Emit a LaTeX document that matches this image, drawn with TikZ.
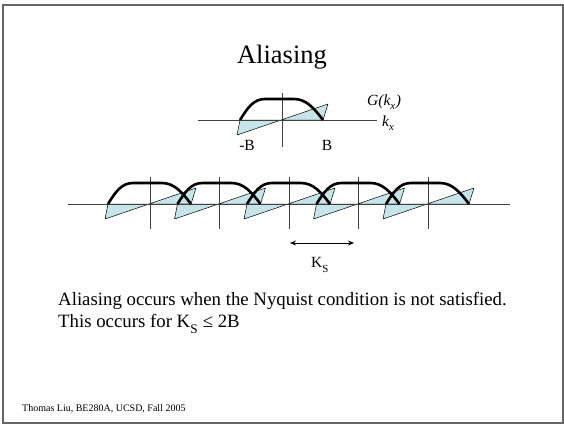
\documentclass[tikz,border=0pt]{standalone}
\usepackage{fontspec}
\setmainfont{Liberation Serif}
\usetikzlibrary{arrows.meta}
\definecolor{imagfill}{RGB}{198,228,233}
\newcommand{\lowsub}[1]{\raisebox{-0.18em}{\textsubscript{#1}}}
\begin{document}
\begin{tikzpicture}[x=1pt, y=-1pt,
        spectrum/.style={line width=2.6pt, black},
        imag/.style={fill=imagfill, draw=black, line width=0.5pt, line join=round},
        axis/.style={draw=black!75, line width=0.8pt},
        lbl/.style={font=\fontsize{15.5}{17}\selectfont, anchor=base, inner sep=0pt}
    ]
    \useasboundingbox (0,0) rectangle (564,424);
    \draw[black!60, line width=1.2pt] (3,5) rectangle (563,423);

    % title
    \node[anchor=base, inner sep=0pt, font=\fontsize{26.5}{30}\selectfont] (title) at (282,63) {Aliasing};

    % single spectrum
    \coordinate (o) at (282,120);
    \draw[imag] (240,120) -- (237,135) -- (328,104) -- (323,120) -- cycle;
    \draw[axis] (198,120) -- (377,120);
    \draw[axis] (282,93) -- (282,147);
    \draw[spectrum] (240,120) .. controls (248,107) and (254,99) .. (265,99)
        -- (294,99) .. controls (306,99) and (314,108) .. (323,120);
    \node[lbl] (mb) at (247,150) {-B};
    \node[lbl] (b) at (327,150) {B};
    \node[lbl, anchor=base west] (gk) at (367,105) {\textit{G(k\lowsub{x})}};
    \node[lbl, anchor=base west] (kx) at (382,126) {\textit{k\lowsub{x}}};

    % replicated spectra
    \foreach \c in {150,219.5,289,358.5,428} {
        \draw[imag] (\c-42,204) -- (\c-45,219) -- (\c+46,188) -- (\c+41,204) -- cycle;
    }
    \draw[axis] (68,204) -- (510,204);
    \foreach \c in {150,219.5,289,358.5,428} {
        \draw[axis] (\c,177) -- (\c,229);
    }
    \foreach \c in {150,219.5,289,358.5,428} {
        \draw[spectrum] (\c-42,204) .. controls (\c-34,191) and (\c-28,183) .. (\c-17,183)
            -- (\c+12,183) .. controls (\c+24,183) and (\c+32,192) .. (\c+41,204);
    }

    % sampling distance
    \coordinate (ks1) at (290,243);
    \coordinate (ks2) at (354,243);
    \draw[{Stealth[length=6pt,width=5pt]}-{Stealth[length=6pt,width=5pt]}, line width=0.9pt] (ks1) -- (ks2);
    \node[lbl] (ks) at (320,267) {K\lowsub{S}};

    % text
    \node[anchor=base west, inner sep=0pt, font=\fontsize{18.8}{21}\selectfont] (line1) at (58,305)
        {Aliasing occurs when the Nyquist condition is not satisfied.};
    \node[anchor=base west, inner sep=0pt, font=\fontsize{18.8}{21}\selectfont] (line2) at (58,327)
        {This occurs for K\lowsub{S} ≤ 2B};
    \node[anchor=base west, inner sep=0pt, font=\fontsize{10}{12}\selectfont] (foot) at (22,411)
        {Thomas Liu, BE280A, UCSD, Fall 2005};
\end{tikzpicture}
\end{document}
